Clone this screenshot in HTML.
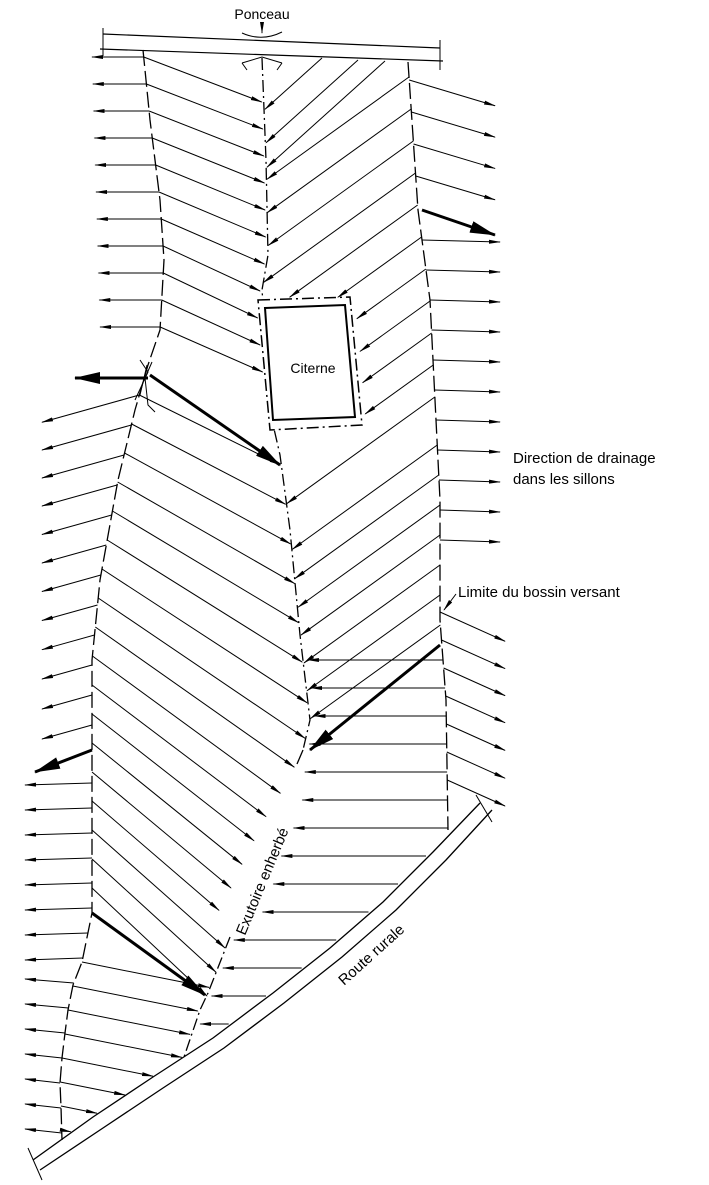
<!DOCTYPE html>
<html><head><meta charset="utf-8"><style>
html,body{margin:0;padding:0;background:#fff;width:709px;height:1185px;overflow:hidden}
svg{display:block}
text{font-family:"Liberation Sans",sans-serif;fill:#000}
</style></head><body>
<svg id="s" xmlns="http://www.w3.org/2000/svg" width="709" height="1185" viewBox="0 0 709 1185">
<defs>
<marker id="a" markerWidth="12" markerHeight="6" refX="11" refY="3" orient="auto" markerUnits="userSpaceOnUse"><path d="M0,1 L12,3 L0,5 Z" fill="#000"/></marker>
<marker id="b" markerWidth="26" markerHeight="12" refX="25" refY="6" orient="auto" markerUnits="userSpaceOnUse"><path d="M0,0 L26,6 L0,12 Z" fill="#000"/></marker>
</defs>
<g id="g" stroke="#000" fill="none" stroke-width="1"></g>
<line x1="103" y1="34" x2="440" y2="48" stroke="#000" stroke-width="1.2"/>
<line x1="100" y1="49" x2="443" y2="61" stroke="#000" stroke-width="1.2"/>
<line x1="103" y1="28" x2="103" y2="56" stroke="#000"/>
<line x1="440" y1="40" x2="440" y2="70" stroke="#000"/>
<path d="M242,33 Q262,42 282,32 M242,63 L262,57 L282,63 M247,70 L242,63 M277,70 L282,63" stroke="#000" fill="none"/>
<line x1="262" y1="22" x2="262" y2="33" stroke="#000" marker-end="url(#a)"/>
<text x="262" y="19" font-size="14" text-anchor="middle">Ponceau</text>
<path d="M258,300 L350,297 L362,425 L270,430 Z" stroke="#000" fill="#fff" stroke-width="1.5" stroke-dasharray="12 4 2 4"/>
<path d="M265,308 L345,305 L355,417 L273,420 Z" stroke="#000" fill="#fff" stroke-width="2"/>
<text x="313" y="373" font-size="14" text-anchor="middle">Citerne</text>
<path d="M140,360 L148,372 L135,400 M152,362 L145,378 L148,405 L155,412 M147,365 L140,395" stroke="#000" fill="none"/>
<polyline points="480,803 433,852 383,902 330,948 273,993 213,1038 153,1077 93,1117 33,1160" stroke="#000" fill="none" stroke-width="1.3"/>
<polyline points="492,810 446,860 396,910 342,957 284,1003 224,1048 163,1088 103,1128 40,1170" stroke="#000" fill="none" stroke-width="1.3"/>
<path d="M28,1148 L42,1180 M476,795 L492,822" stroke="#000"/>
<text x="513" y="463" font-size="15">Direction de drainage</text>
<text x="513" y="484" font-size="15">dans les sillons</text>
<text x="458" y="597" font-size="15">Limite du bossin versant</text>
<line x1="456" y1="594" x2="444" y2="610" stroke="#000" marker-end="url(#a)"/>
<text font-size="15" transform="translate(245,936) rotate(-67.5)">Exutoire enherbé</text>
<text font-size="15" transform="translate(344,986) rotate(-42)">Route rurale</text>
</svg>
<script>
var g=document.getElementById('g');
function el(t,a){var e=document.createElementNS('http://www.w3.org/2000/svg',t);for(var k in a)e.setAttribute(k,a[k]);g.appendChild(e);return e;}
function bx(p,y){if(y<=p[0][1])return p[0][0];for(var i=1;i<p.length;i++){if(y<=p[i][1]){var a=p[i-1],b=p[i];return a[0]+(b[0]-a[0])*(y-a[1])/(b[1]-a[1]);}}return p[p.length-1][0];}
function pl(p,dash,w){el('polyline',{points:p.map(function(q){return q.join(',')}).join(' '),'stroke-dasharray':dash,'stroke-width':w||1.3});}
function ar(x1,y1,x2,y2,thick){el('line',{x1:x1,y1:y1,x2:x2,y2:y2,'stroke-width':thick?3:1,'marker-end':thick?'url(#b)':'url(#a)'});}
var L=[[143,50],[150,120],[160,200],[164,260],[160,330],[148,365],[135,410],[118,480],[100,580],[92,660],[92,913],[82,962],[73,985],[68,1010],[65,1033],[62,1058],[60,1083],[61,1107],[62,1140]];
var C=[[262,58],[266,160],[268,255],[262,290],[272,420],[280,455],[290,530],[300,635],[310,720],[303,750]];
var E=[[303,750],[297,764],[262,825],[215,920],[230,937],[208,993],[200,1010],[183,1060]];
var R=[[408,62],[418,210],[430,300],[436,420],[440,500],[440,620],[446,700],[448,830]];
var RT=[[480,803],[433,852],[383,902],[330,948],[273,993],[213,1038],[153,1077],[93,1117],[33,1160]];
function rx(y){if(y<803)return 999;return bx(RT,y);}
function cx(y){return y<=750?bx(C,y):bx(E,y);}
pl(L,'16 5');pl(C,'12 4 2 4');pl([[303,750],[297,764]],'');pl([[230,937],[208,993],[200,1010],[183,1060]],'12 4 2 4');pl(R,'16 5');
for(var y=57;y<=340;y+=27){ar(bx(L,y),y,92+(y-57)*0.03,y);}
for(var y=395;y<=745;y+=30){var x=bx(L,y);ar(x,y,42,y+(x-42)*0.28);}
for(var y=783;y<=1140;y+=25){var x=bx(L,y);ar(x,y,25,y+(y>980?-4:2));}
for(var y=57;y<=335;y+=27){var x=bx(L,y),ey=y+45,ex=cx(ey);if(ey>300&&ey<430)ex=bx([[258,300],[270,430]],ey);ar(x,y,ex-2,ey);}
var tops=[[322,58],[358,60],[385,61]];
tops.forEach(function(t){var x=t[0],y=t[1];while(x>cx(y)+1){x-=1;y+=0.9;}ar(t[0],t[1],x,y);});
for(var y0=77;y0<=420;y0+=32){var sx=bx(R,y0),x=sx,y=y0;var lim=function(yy){return (yy>297&&yy<425)?bx([[350,297],[362,425]],yy)+4:cx(yy);};while(x>lim(y)+1){x-=1;y+=0.72;}ar(sx,y0,x,y);}
for(var y0=80;y0<=200;y0+=32){var x=bx(R,y0);ar(x,y0,495,y0+(495-x)*0.3);}
for(var y0=240;y0<=565;y0+=30){ar(bx(R,y0),y0,500,y0+2);}
for(var y0=612;y0<=800;y0+=28){var x=bx(R,y0);ar(x,y0,505,y0+(505-x)*0.45);}
for(var s=395;s<=900;s+=29){var x=bx(L,s),y=s,m=0.5+(s-400)/500*0.45;var sx=x;while(x<cx(y)-1&&y<1100){x+=1;y+=m;}ar(sx,s,x,y);}
for(var y0=445;y0<=625;y0+=30){var sx=bx(R,y0),x=sx,y=y0;while(x>cx(y)+1){x-=1;y+=0.72;}ar(sx,y0,x,y);}
for(var y=660;y<=1050;y+=28){var sx=Math.min(bx(R,y),rx(y)-3),ex=cx(y)+5;if(y>770&&y<940)ex=bx([[305,770],[302,803],[295,825],[283,850],[277,872],[269,898],[258,922],[245,940]],y);if(sx>ex+10)ar(sx,y,ex,y);}
for(var s=962;s<=1135;s+=24){var x=bx(L,s),y=s,sx=x;while(x<Math.min(cx(y),rx(y))-2&&x<400){x+=1;y+=0.2;}ar(sx,s,x,y);}
ar(92,750,35,772,1);ar(150,375,280,465,1);ar(148,378,75,378,1);ar(422,210,495,235,1);ar(440,645,310,750,1);ar(92,913,205,995,1);
</script>
</body></html>
